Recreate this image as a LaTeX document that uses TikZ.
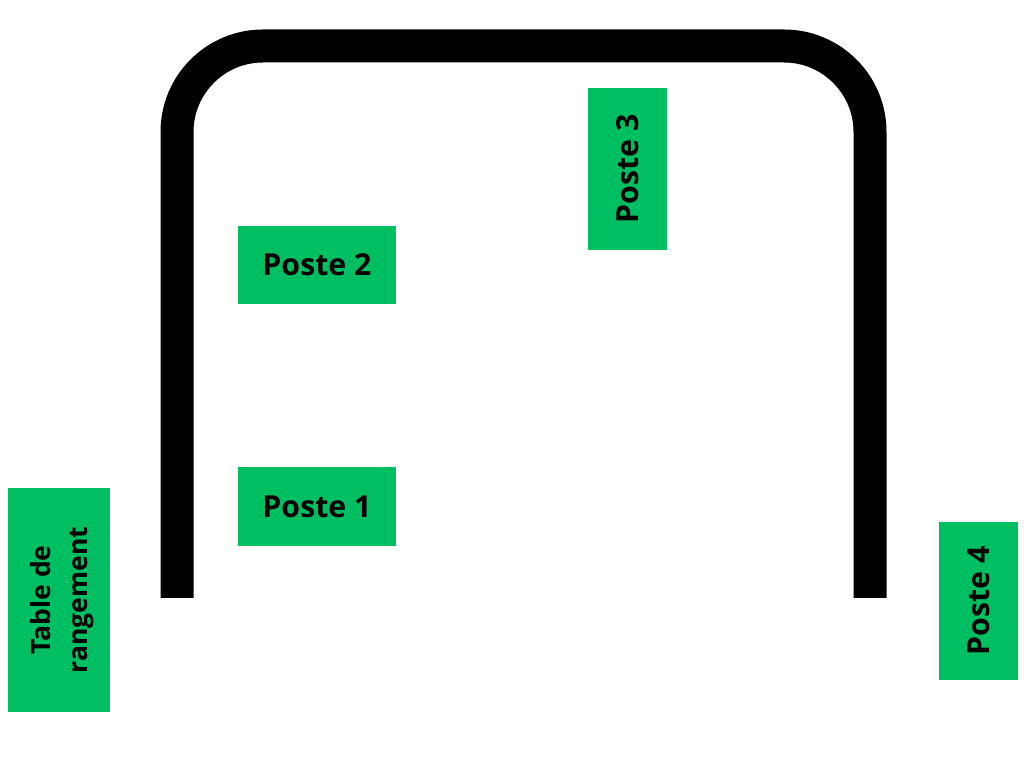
\documentclass[tikz,border=0pt]{standalone}
\usepackage{fontspec}
\setmainfont{Open Sans}
\definecolor{postegreen}{RGB}{0,191,99}
\tikzset{
  poste/.style={fill=postegreen, inner sep=0pt, font=\bfseries\fontsize{30.3}{34}\selectfont, text=black, align=center},
  rail/.style={line width=33pt, black}
}
\begin{document}
\begin{tikzpicture}[x=1pt,y=1pt]
\useasboundingbox (0,0) rectangle (1030,757);
\draw[rail] (177,159) -- (177,625) arc[start angle=180,end angle=90,radius=86] -- (784,711) arc[start angle=90,end angle=0,radius=86] -- (870,159);
\node[poste, minimum width=162pt, minimum height=79pt, rotate=90] (p3) at (627.5,588) {Poste 3};
\node[poste, minimum width=158pt, minimum height=78pt] (p2) at (317,492) {Poste 2};
\node[poste, minimum width=158pt, minimum height=79pt] (p1) at (317,250.5) {Poste 1};
\node[poste, minimum width=224pt, minimum height=102pt, rotate=90] (tr) at (59,157) {};
\node[inner sep=0pt, align=center, rotate=90, font=\bfseries\fontsize{26.5}{37}\selectfont] (trtext) at (62.5,157) {Table de\\rangement};
\node[poste, minimum width=158pt, minimum height=79pt, rotate=90] (p4) at (978.5,156) {Poste 4};
\end{tikzpicture}
\end{document}
